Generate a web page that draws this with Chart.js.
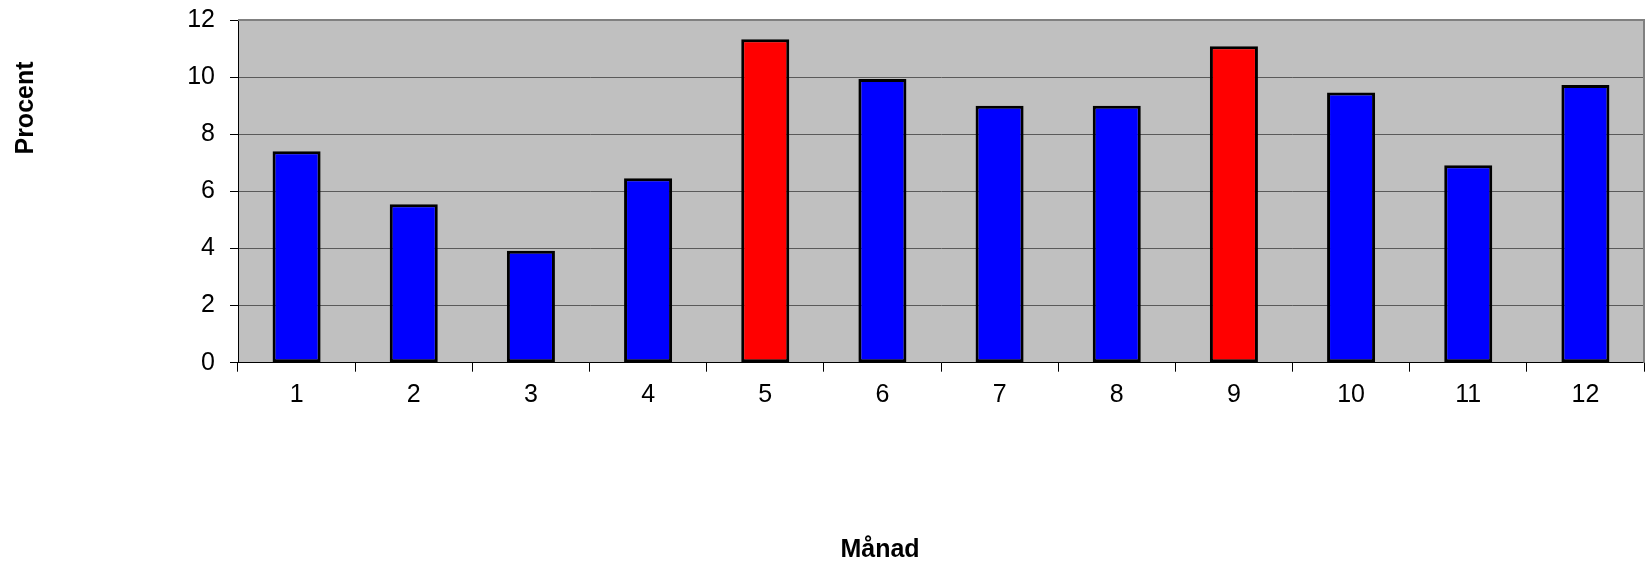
<!DOCTYPE html>
<html>
<head>
<meta charset="utf-8">
<script src="https://cdn.jsdelivr.net/npm/chart.js@4.4.1/dist/chart.umd.min.js"></script>
<style>
  html, body { margin: 0; padding: 0; background: #ffffff; }
  #wrap { width: 1648px; height: 563px; position: relative; }
</style>
</head>
<body>
<div id="wrap"><canvas id="c" width="1648" height="563"></canvas></div>
<script>
const categories = ['1', '2', '3', '4', '5', '6', '7', '8', '9', '10', '11', '12'];
const values = [7.4, 5.55, 3.92, 6.46, 11.33, 9.93, 9.0, 9.0, 11.08, 9.46, 6.91, 9.72];
const barColors = ['#0000ff', '#0000ff', '#0000ff', '#0000ff', '#ff0000', '#0000ff', '#0000ff', '#0000ff', '#ff0000', '#0000ff', '#0000ff', '#0000ff'];
const yTitle = 'Procent';
const xTitle = 'Månad';

const FONT = '"Liberation Sans", Arial, sans-serif';

const bgPlugin = {
  id: 'plotBg',
  beforeDraw(chart) {
    const { ctx, chartArea: a } = chart;
    ctx.save();
    ctx.fillStyle = '#c0c0c0';
    ctx.fillRect(a.left, a.top, a.right - a.left, a.bottom - a.top);
    ctx.restore();
  },
  afterDatasetsDraw(chart) {
    const { ctx, chartArea: a } = chart;
    ctx.save();
    ctx.strokeStyle = '#808080';
    ctx.lineWidth = 2;
    ctx.beginPath();
    ctx.moveTo(a.left, a.top);
    ctx.lineTo(a.right, a.top);
    ctx.lineTo(a.right, a.bottom);
    ctx.stroke();
    ctx.restore();
  },
  afterDraw(chart) {
    const { ctx } = chart;
    ctx.save();
    ctx.fillStyle = '#000000';
    ctx.font = 'bold 25px ' + FONT;
    ctx.textAlign = 'center';
    ctx.textBaseline = 'alphabetic';
    ctx.fillText(xTitle, 880, 557);
    ctx.translate(33, 108);
    ctx.rotate(-Math.PI / 2);
    ctx.fillText(yTitle, 0, 0);
    ctx.restore();
  }
};

new Chart(document.getElementById('c'), {
  type: 'bar',
  data: {
    labels: categories,
    datasets: [{
      data: values,
      backgroundColor: barColors,
      borderColor: '#000000',
      borderWidth: 3,
      borderSkipped: false,
      categoryPercentage: 1.0,
      barPercentage: 0.41
    }]
  },
  options: {
    responsive: false,
    animation: false,
    devicePixelRatio: 1,
    layout: { padding: { left: 0, right: 4, top: 20, bottom: 0 } },
    plugins: { legend: { display: false }, tooltip: { enabled: false }, title: { display: false } },
    scales: {
      x: {
        offset: true,
        grid: { display: true, drawOnChartArea: false, drawTicks: true, tickLength: 9, offset: true, color: '#000000', lineWidth: 1 },
        border: { display: true, color: '#000000', width: 1 },
        ticks: { color: '#000000', font: { family: FONT, size: 25 }, padding: 8, maxRotation: 0 },
        afterFit(s) { s.height = 200.3; }
      },
      y: {
        min: 0, max: 12,
        ticks: { stepSize: 2, color: '#000000', font: { family: FONT, size: 25 }, padding: 15 },
        grid: { color: '#5a5a5a', lineWidth: 1, tickLength: 8, tickColor: '#000000' },
        border: { display: true, color: '#000000', width: 1 },
        afterFit(s) { s.width = 238; s.paddingTop = 0; s.paddingBottom = 0; }
      }
    }
  },
  plugins: [bgPlugin]
});
</script>
</body>
</html>
